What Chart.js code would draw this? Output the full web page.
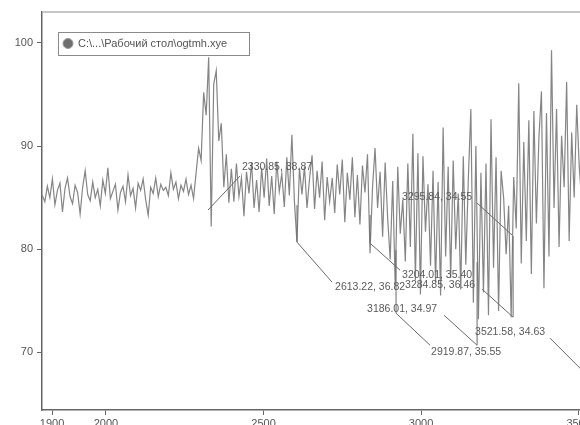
<!DOCTYPE html>
<html>
<head>
<meta charset="utf-8">
<script src="https://cdn.jsdelivr.net/npm/chart.js@4"></script>
<style>
  html, body { margin: 0; padding: 0; background: #fff; overflow: hidden; }
  canvas { display: block; }
</style>
</head>
<body>
<canvas id="spectrum-chart" width="600" height="425"></canvas>
<script>
// sampling grid of the spectrum (cm-1)
const wavenumberStart = 1798;
const wavenumberStep = 8;

// intensity, one value per sample
const intensity = [
    85.2, 84.6, 86.1, 85.0, 86.8, 84.3, 85.7, 86.4, 83.6, 85.9,
    86.9, 85.1, 84.4, 86.2, 85.5, 83.4, 86.0, 87.6, 85.3, 84.7,
    86.5, 85.0, 85.8, 84.2, 86.7, 85.4, 87.9, 84.9, 85.6, 86.3,
    83.8, 85.5, 86.1, 84.6, 87.2, 85.2, 85.9, 84.0, 86.4, 85.7,
    86.8, 84.8, 83.3, 86.0, 85.4, 86.9, 85.1, 86.3, 85.7, 86.0,
    85.2, 87.4, 85.8, 86.5, 84.9, 86.2, 85.6, 86.8, 85.3,
    86.2, 84.9, 87.4, 89.8, 88.6, 95.2, 93.0, 98.6, 82.2, 96.0,
    97.3, 90.5, 92.2, 86.0, 89.2, 84.5,
    87.8, 84.6, 88.3, 85.1, 86.9, 83.2, 87.5, 85.4, 88.4, 84.0,
    86.7, 83.6, 87.9, 85.0, 88.8, 84.2, 87.1, 83.4, 88.5, 85.6,
    87.3, 84.1, 88.9, 85.2, 91.1, 84.7, 80.7, 87.9, 85.3, 88.0,
    84.0, 86.8, 89.1, 83.9, 87.6, 85.0, 88.5, 82.8, 87.0, 84.6,
    86.9, 83.5, 88.2, 85.3, 88.7, 82.6, 87.4, 84.8, 88.9, 83.1,
    87.2, 82.4, 88.1, 85.5, 89.2, 79.6, 86.0, 89.8, 84.0, 87.5,
    81.2, 88.4, 83.0, 79.0, 86.6, 76.4, 88.0, 81.5, 84.8, 78.8,
    88.3, 80.2, 91.2, 77.0, 89.3, 75.6, 89.0, 81.7, 86.3, 78.4,
    87.6, 76.8, 86.5, 75.5, 91.8, 79.3, 88.0, 77.2, 88.6, 80.0,
    85.4, 76.1, 89.0, 78.5, 86.8, 93.6, 74.8, 90.0, 73.2, 87.4,
    75.8, 88.3, 73.6, 92.6, 78.2, 88.9, 74.0, 87.6, 85.0, 79.5,
    84.2, 73.4, 87.0, 82.0, 96.1, 78.6, 90.4, 80.8, 92.5, 77.6,
    93.4, 82.5, 90.8, 95.3, 76.2, 93.2, 79.3, 99.3, 84.0, 93.6,
    80.2, 91.0, 86.0, 96.2, 80.8, 91.3, 85.0, 94.0, 88.0, 84.5,
    90.0
];

const seriesName = "C:\\...\\Рабочий стол\\ogtmh.xye";

const xTicks = [1829, 2000, 2500, 3000, 3500];
const xTickLabels = ["1900", "2000", "2500", "3000", "3500"];
const yTicks = [70, 80, 90, 100];

// peak labels: text, label anchor and leader path in data units
const peakLabels = [
    { text: "2330.85, 38.87", at: [2431.7, 87.96], path: [[2323.8, 83.79], [2425.4, 87.09]] },
    { text: "2613.22, 36.82", at: [2727.0, 76.31], path: [[2606.3, 84.27], [2606.3, 80.68], [2717.5, 76.80]] },
    { text: "3204.01, 35.40", at: [2939.7, 77.48], path: [[2838.1, 83.30], [2838.1, 80.58], [2933.3, 77.96]] },
    { text: "3284.85, 36.46", at: [2949.2, 76.50], path: [[3193.7, 76.12], [3292.1, 73.40], [3292.1, 81.26]] },
    { text: "3295.84, 34.55", at: [2939.7, 85.05], path: [[3177.8, 84.47], [3288.9, 81.36]] },
    { text: "3186.01, 34.97", at: [2828.6, 74.17], path: [[3073.0, 73.59], [3177.8, 70.68], [3177.8, 78.74]] },
    { text: "2919.87, 35.55", at: [3031.7, 70.00], path: [[2920.6, 79.90], [2920.6, 73.79], [3028.6, 70.68]] },
    { text: "3521.58, 34.63", at: [3171.4, 71.94], path: [[3409.5, 71.36], [3568.3, 66.50]] }
];

const points = intensity.map((v, i) => ({ x: wavenumberStart + i * wavenumberStep, y: v }));

const lineColor = "#858585";
const fontFamily = "'Liberation Sans', Arial, sans-serif";

const framePlugin = {
    id: "frameAndLabels",
    afterDatasetsDraw(chart) {
        const { ctx, chartArea, scales } = chart;
        const xs = scales.x, ys = scales.y;
        ctx.save();
        // top frame line
        ctx.strokeStyle = "#b4b4b4";
        ctx.lineWidth = 1.5;
        ctx.beginPath();
        ctx.moveTo(chartArea.left, chartArea.top);
        ctx.lineTo(chartArea.right, chartArea.top);
        ctx.stroke();

        // peak labels with leader lines
        ctx.strokeStyle = "#6a6a6a";
        ctx.lineWidth = 1;
        ctx.fillStyle = "#5a5a5a";
        ctx.font = "10.5px " + fontFamily;
        ctx.textBaseline = "middle";
        peakLabels.forEach(p => {
            ctx.beginPath();
            p.path.forEach((pt, i) => {
                const px = xs.getPixelForValue(pt[0]);
                const py = ys.getPixelForValue(pt[1]);
                if (i === 0) ctx.moveTo(px, py); else ctx.lineTo(px, py);
            });
            ctx.stroke();
            ctx.fillText(p.text, xs.getPixelForValue(p.at[0]), ys.getPixelForValue(p.at[1]));
        });

        // legend box
        const lx = chartArea.left + 16, ly = chartArea.top + 20;
        ctx.fillStyle = "#fff";
        ctx.fillRect(lx, ly, 191, 23);
        ctx.strokeStyle = "#8a8a8a";
        ctx.lineWidth = 1;
        ctx.strokeRect(lx + 0.5, ly + 0.5, 191, 23);
        ctx.beginPath();
        ctx.arc(lx + 10, ly + 11.5, 5, 0, Math.PI * 2);
        ctx.fillStyle = "#6e6e6e";
        ctx.fill();
        ctx.strokeStyle = "#9a9a9a";
        ctx.stroke();
        ctx.fillStyle = "#555";
        ctx.font = "11px " + fontFamily;
        ctx.fillText(chart.data.datasets[0].label, lx + 20, ly + 12);
        ctx.restore();
    }
};

const spectrumChart = new Chart(document.getElementById("spectrum-chart").getContext("2d"), {
    type: "line",
    data: {
        datasets: [{
            label: seriesName,
            data: points,
            borderColor: lineColor,
            borderWidth: 1.2,
            pointRadius: 0,
            tension: 0,
            fill: false
        }]
    },
    options: {
        responsive: false,
        animation: false,
        layout: { padding: { top: 12, right: 5, left: 0, bottom: 0 } },
        plugins: {
            legend: { display: false },
            tooltip: { enabled: false }
        },
        scales: {
            x: {
                type: "linear",
                min: 1797,
                max: 3552,
                afterBuildTicks: scale => { scale.ticks = xTicks.map(v => ({ value: v })); },
                afterFit: scale => { scale.height = 15; },
                grid: { drawOnChartArea: false, drawTicks: true, tickLength: 5, color: "#666" },
                border: { color: "#666", width: 1.5 },
                ticks: {
                    autoSkip: false,
                    maxRotation: 0,
                    padding: 2,
                    color: "#555",
                    font: { family: fontFamily, size: 11 },
                    callback: (value, index) => xTickLabels[index]
                }
            },
            y: {
                min: 64.4,
                max: 103,
                afterBuildTicks: scale => { scale.ticks = yTicks.map(v => ({ value: v })); },
                afterFit: scale => { scale.width = 42; },
                grid: { drawOnChartArea: false, drawTicks: true, tickLength: 5, color: "#666" },
                border: { color: "#666", width: 1.5 },
                ticks: {
                    padding: 4,
                    color: "#555",
                    font: { family: fontFamily, size: 11 }
                }
            }
        }
    },
    plugins: [framePlugin]
});
</script>
</body>
</html>
